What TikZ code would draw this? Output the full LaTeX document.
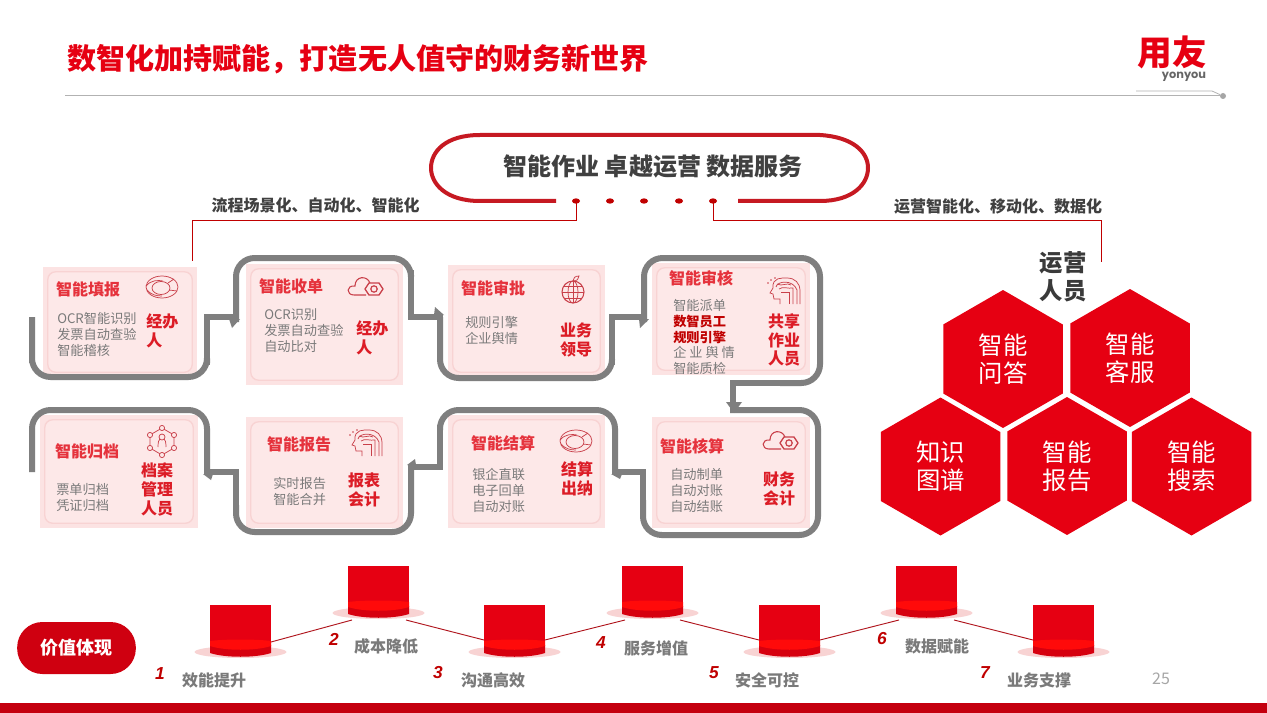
\documentclass[tikz,border=0pt]{standalone}
\usepackage{fontspec}
\setmainfont{Noto Sans CJK SC}
\newfontfamily\latinbold{Poppins}
\newfontfamily\numfont{Liberation Sans}
\usetikzlibrary{fit,shapes.geometric,calc}
\definecolor{brand}{HTML}{E60012}
\definecolor{deepred}{HTML}{C00000}
\definecolor{cardfill}{HTML}{FCE3E3}
\definecolor{cardin}{HTML}{F8D3D3}
\definecolor{cardfillb}{HTML}{FDE8E8}
\definecolor{flowgray}{HTML}{7F7F7F}
\definecolor{bodygray}{HTML}{7A7A7A}
\definecolor{headred}{HTML}{E5323C}
\definecolor{rolered}{HTML}{DC1C26}
\definecolor{iconred}{HTML}{C9404A}
\definecolor{darktext}{HTML}{404040}
\definecolor{cyldark}{HTML}{D6000F}
\definecolor{cylbright}{HTML}{FF0A0A}
\tikzset{
  x=0.75pt,y=-0.75pt,
  card/.style={fill=cardfill,draw=none,inner sep=0pt},
  cardinner/.style={fill=cardfillb,draw=cardin,line width=1pt,rounded corners=6pt},
  head/.style={font=\fontsize{12}{14}\selectfont\bfseries,text=headred,inner sep=0pt,anchor=center},
  body/.style={font=\fontsize{9.9}{12}\selectfont,text=bodygray,inner sep=0pt,anchor=west,align=left},
  role/.style={font=\fontsize{12}{14.2}\selectfont\bfseries,text=rolered,inner sep=0pt,align=center},
  roleleft/.style={role,align=left,anchor=west},
  flow/.style={draw=flowgray,line width=4.5pt,line join=miter},
  icon/.style={draw=iconred,line width=0.55pt,fill=none},
  hexa/.style={regular polygon,regular polygon sides=6,shape border rotate=30,minimum size=103.5pt,inner sep=0pt,fill=brand,draw=none,text=white,align=center,font=\fontsize{18.3}{21}\selectfont},
  thinred/.style={draw=deepred,line width=0.75pt},
  dotm/.style={ellipse,fill=deepred,draw=none,minimum width=6pt,minimum height=4pt,inner sep=0pt},
  capt/.style={font=\fontsize{12}{14}\selectfont\bfseries,text=bodygray,inner sep=0pt},
  numb/.style={font=\numfont\fontsize{13}{14}\selectfont\bfseries\itshape,text=deepred,inner sep=0pt},
  lbl/.style={font=\fontsize{12}{14}\selectfont\bfseries,text=darktext,inner sep=0pt},
  ringicon/.pic={
    \draw[icon] (0,0) ellipse (16 and 11);
    \draw[icon] (-1,1) ellipse (9 and 6.5);
    \draw[icon] (-16,-1) .. controls (-11,-7) and (-4,-7) .. (1,-6) (6,-4) -- (12,-8) (7,3) -- (15,4) (-15,3) .. controls (-11,8) and (-5,9) .. (0,9);
  },
  cloudicon/.pic={
    \draw[icon,line width=0.8pt] (0,7) -- (-12,7) .. controls (-20,7) and (-20,-3) .. (-11,-2) .. controls (-11,-12) and (1,-13) .. (4,-5);
    \draw[icon,line width=1pt,line join=round] (-1,1) -- (3,-5) -- (13,-5) -- (17,1) -- (13,7) -- (3,7) -- cycle;
    \draw[icon,line width=0.9pt] (8,1) circle (3.2);
  },
  globeicon/.pic={
    \draw[icon,line width=0.8pt] (0,2) circle (11);
    \draw[icon] (0,2) ellipse (5 and 11);
    \draw[icon] (-11,2) -- (11,2) (-9,-4) -- (9,-4) (-9,8) -- (9,8) (0,-9) -- (0,13);
    \draw[icon] (0,-9) .. controls (0,-12) and (2,-14) .. (6,-14) .. controls (6,-11) and (4,-9) .. (0,-9);
  },
  brainicon/.pic={
    \draw[icon] (-5,13) -- (-5,8) -- (-11,8) -- (-12,3) -- (-15,2) -- (-12,-3) .. controls (-13,-14) and (-3,-13) .. (2,-13) .. controls (10,-13) and (15,-8) .. (15,0) -- (15,13);
    \draw[icon] (-9,-4) .. controls (-8,-10) and (8,-12) .. (12,-1) -- (12,13);
    \draw[icon] (-8,-7) .. controls (-3,-4) and (2,-9) .. (6,-6);
    \draw[icon] (-6,-2) .. controls (-2,-5) and (3,-2) .. (8,-3) -- (8,13);
    \draw[icon] (4,13) -- (4,1) -- (-4,1);
    \fill[iconred] (-14,-11) circle (0.8) (-10,-13) circle (0.8) (-17,-8) circle (0.8);
  },
  neticon/.pic={
    \draw[icon] (0,-13) -- (12,-6) -- (12,7) -- (0,14) -- (-12,7) -- (-12,-6) -- cycle;
    \foreach \p in {(0,-13),(12,-6),(12,7),(0,14),(-12,7),(-12,-6)}{\draw[icon,fill=cardfillb] \p circle (2.6);}
    \draw[icon] (-4,6) .. controls (-4,0) and (-3,-1) .. (-2,-2) (4,6) .. controls (4,0) and (3,-1) .. (2,-2);
    \draw[icon] (0,-4) circle (3);
  },
}
\begin{document}
\begin{tikzpicture}
\useasboundingbox (0,0) rectangle (1267,713);
\fill[white] (0,0) rectangle (1267,713);
% header
\node[font=\fontsize{21.8}{24}\selectfont\bfseries,text=brand,inner sep=0pt] (title) at (358,59) {数智化加持赋能，打造无人值守的财务新世界};
\coordinate (hl) at (65,96);
\node[circle,fill=black!35,inner sep=0pt,minimum size=4.5pt] (hdot) at (1223,96) {};
\draw[black!30,line width=0.75pt] (hl) -- (hdot);
\coordinate (hu) at (1136,91);
\draw[black!30,line width=0.6pt] (hu) -- (1212,91) -- (hdot);
\node[font=\fontsize{26}{28}\selectfont\bfseries,text=brand,inner sep=0pt] (logo) at (1172,52) {用友};
\node[font=\latinbold\fontsize{8.5}{10}\selectfont\bfseries,text=black!60,inner sep=0pt] (logot) at (1184,77) {yonyou};
% top capsule
\node[inner sep=0pt,font=\fontsize{18}{20}\selectfont\bfseries,text=darktext] (cap) at (653,166) {智能作业 卓越运营 数据服务};
\coordinate (capL) at (556,201);
\coordinate (capR) at (738,201);
\draw[draw=rolered!90!black,line width=3pt] (capL) -- (480,201) .. controls (445,201) and (431,183) .. (431,168) .. controls (431,152) and (445,135) .. (480,135) -- (820,135) .. controls (853,137) and (868,152) .. (868,168) .. controls (868,184) and (853,201) .. (820,201) -- (capR);
\node[dotm] (d1) at (576,201) {};
\node[dotm] (d2) at (610,201) {};
\node[dotm] (d3) at (644,201) {};
\node[dotm] (d4) at (679,201) {};
\node[dotm] (d5) at (713,201) {};
\coordinate (leftEnd) at (192,261);
\coordinate (rightEnd) at (1101,262);
\draw[thinred] (d1.center) -- (576,220) -| (leftEnd);
\draw[thinred] (d5.center) -- (713,220) -| (rightEnd);
\node[lbl] (ll) at (315.5,205) {流程场景化、自动化、智能化};
\node[lbl] (lr) at (998,206) {运营智能化、移动化、数据化};
% cards
\node[card,fit={(43,267) (197,377)}] (b1) {};
\node[card,fit={(246,264) (403,385)}] (b2) {};
\node[card,fit={(448,265) (605,377)}] (b3) {};
\node[card,fit={(652,263) (810,375)}] (b4) {};
\node[card,fit={(652,417) (810,528)}] (b5) {};
\node[card,fit={(448,415) (605,528)}] (b6) {};
\node[card,fit={(246,417) (403,528)}] (b7) {};
\node[card,fit={(40,415) (198,528)}] (b8) {};
\foreach \b in {b1,b2,b3,b4,b5,b6,b7,b8}{
  \draw[cardinner] ([shift={(5,-5)}]\b.south west) rectangle ([shift={(-5,5)}]\b.north east);
}
% flow band
\coordinate (j0) at (32,317);
\coordinate (j1) at (238,317);
\coordinate (j2s) at (236,322);
\coordinate (j2) at (443,317);
\coordinate (j3s) at (440,317);
\coordinate (j3) at (646,317);
\coordinate (j4s) at (644,322);
\coordinate (j4) at (733,405);
\coordinate (j5s) at (730,410);
\coordinate (j5) at (613,472);
\coordinate (j6s) at (615,474);
\coordinate (j6) at (409,467);
\coordinate (j7s) at (411,465);
\coordinate (j7) at (205,472);
\coordinate (j8s) at (207,474);
\coordinate (j8) at (32,472);
\begin{scope}[flow]
\draw (j0) -- (32,363) [rounded corners=14] -- (32,377) -- (207,377) -- (207,363);
\draw (207,365) -- (207,317) -- (j1);
\draw [rounded corners=14] (j2s) -- (236,258) -- (411,258) -- (411,275);
\draw (411,270) -- (411,317) -- (j2);
\draw [rounded corners=14] (j3s) -- (440,378) -- (612,378) -- (612,360);
\draw (612,365) -- (612,317) -- (j3);
\draw [rounded corners=14] (j4s) -- (644,258) -- (820,258) -- (820,383) -- (780,383);
\draw (785,383) -- (733,383) -- (j4);
\draw [rounded corners=14] (j5s) -- (818,410) -- (818,535) -- (643,535) -- (643,500);
\draw (643,505) -- (643,472) -- (j5);
\draw [rounded corners=14] (j6s) -- (615,410) -- (440,410) -- (440,430);
\draw (440,425) -- (440,467) -- (j6);
\draw [rounded corners=14] (j7s) -- (411,532) -- (236,532) -- (236,505);
\draw (236,510) -- (236,472) -- (j7);
\draw [rounded corners=14] (j8s) -- (207,410) -- (32,410) -- (j8);
\end{scope}
\fill[flowgray] (229,319) -- (240,319) -- (232,328) -- cycle;
\fill[flowgray] (434,315) -- (444,315) -- (435,307) -- cycle;
\fill[flowgray] (639,319) -- (649,319) -- (640,328) -- cycle;
\fill[flowgray] (726,402) -- (742,402) -- (734,413) -- cycle;
\fill[flowgray] (611,474) -- (622,474) -- (620,479) -- cycle;
\fill[flowgray] (407,465) -- (416,465) -- (415,459) -- cycle;
\fill[flowgray] (203,474) -- (213,474) -- (211,480) -- cycle;
% card 1
\node[head] (h1) at (88,289) {智能填报};
\node[body] (t1) at (57,334) {OCR智能识别\\发票自动查验\\智能稽核};
\node[roleleft] (r1) at (146,331) {经办\\人};
\pic at (162,287) {ringicon};
% card 2
\node[head] (h2) at (291,286) {智能收单};
\node[body] (t2) at (264,331) {OCR识别\\发票自动查验\\自动比对};
\node[roleleft] (r2) at (356,338) {经办\\人};
\pic at (366,288) {cloudicon};
% card 3
\node[head] (h3) at (493,288) {智能审批};
\node[body] (t3) at (465,330) {规则引擎\\企业舆情};
\node[role] (r3) at (576,340) {业务\\领导};
\pic at (573,290) {globeicon};
% card 4
\node[head] (h4) at (701,278) {智能审核};
\node[body,font=\fontsize{9.9}{11.7}\selectfont] (t4) at (673,337) {智能派单\\\textcolor{deepred}{\bfseries 数智员工}\\\textcolor{deepred}{\bfseries 规则引擎}\\企 业 舆 情\\智能质检};
\node[role] (r4) at (784,340) {共享\\作业\\人员};
\pic at (785,291) {brainicon};
% card 5
\node[head] (h5) at (692,446) {智能核算};
\node[body] (t5) at (670,491) {自动制单\\自动对账\\自动结账};
\node[role] (r5) at (779,489) {财务\\会计};
\pic at (781,442) {cloudicon};
% card 6
\node[head] (h6) at (503,443) {智能结算};
\node[body] (t6) at (472,490) {银企直联\\电子回单\\自动对账};
\node[role] (r6) at (577,479) {结算\\出纳};
\pic at (576,441) {ringicon};
% card 7
\node[head] (h7) at (299,444) {智能报告};
\node[body] (t7) at (273,491) {实时报告\\智能合并};
\node[role] (r7) at (364,490) {报表\\会计};
\pic at (367,443) {brainicon};
% card 8
\node[head] (h8) at (87,451) {智能归档};
\node[body] (t8) at (56,498) {票单归档\\凭证归档};
\node[role] (r8) at (157,489) {档案\\管理\\人员};
\pic at (162,441) {neticon};
% hexagons
\node[font=\fontsize{17.5}{21}\selectfont\bfseries,text=darktext!90!black,inner sep=0pt,align=center] (ops) at (1063,277) {运营\\人员};
\node[hexa] (x1) at (1003,359) {智能\\问答};
\node[hexa] (x2) at (1130,358) {智能\\客服};
\node[hexa] (x3) at (940.5,466.5) {知识\\图谱};
\node[hexa] (x4) at (1067,466) {智能\\报告};
\node[hexa] (x5) at (1191.5,466.5) {智能\\搜索};
% value strip
\node[rounded corners=19pt,fill=brand!90!black,draw=none,minimum width=89pt,minimum height=39pt,inner sep=0pt,text=white,font=\fontsize{13.5}{16}\selectfont\bfseries] (val) at (76.5,648) {价值体现};
\foreach \i/\x/\t in {1/210/605,2/348/566,3/484/605,4/622/566,5/759/605,6/896/566,7/1033/605}{
  \fill[cardin] (\x+30.5,\t+47) ellipse (46 and 6);
  \node[fill=brand,draw=none,inner sep=0pt,fit={(\x,\t) (\x+61,\t+38)}] (c\i) {};
  \fill[cyldark] (\x,\t+40) -- (\x,\t+48) .. controls (\x+15,\t+53) and (\x+46,\t+53) .. (\x+61,\t+48) -- (\x+61,\t+40) -- cycle;
  \fill[cylbright] (\x,\t+36) -- (\x,\t+41) .. controls (\x+15,\t+46) and (\x+46,\t+46) .. (\x+61,\t+41) -- (\x+61,\t+36) .. controls (\x+46,\t+34) and (\x+15,\t+34) .. (\x,\t+36) -- cycle;
}
\coordinate (k1r) at (271,642);
\coordinate (k2l) at (352,620);
\coordinate (k2r) at (406,620);
\coordinate (k3l) at (484,640);
\coordinate (k3r) at (545,640);
\coordinate (k4l) at (625,620);
\coordinate (k4r) at (680,620);
\coordinate (k5l) at (759,640);
\coordinate (k5r) at (820,640);
\coordinate (k6l) at (899,620);
\coordinate (k6r) at (954,620);
\coordinate (k7l) at (1033,640);
\draw[draw=rolered!80!black,line width=0.7pt] (k1r) -- (k2l) (k2r) -- (k3l) (k3r) -- (k4l) (k4r) -- (k5l) (k5r) -- (k6l) (k6r) -- (k7l);
\node[numb] (n1) at (160,674) {1};
\node[numb] (n2) at (334,639) {2};
\node[numb] (n3) at (438,673) {3};
\node[numb] (n4) at (601,643) {4};
\node[numb] (n5) at (714,673) {5};
\node[numb] (n6) at (882,639) {6};
\node[numb] (n7) at (985,673) {7};
\node[capt] (v1) at (214,680) {效能提升};
\node[capt] (v2) at (386,646) {成本降低};
\node[capt] (v3) at (493,680) {沟通高效};
\node[capt] (v4) at (656,648) {服务增值};
\node[capt] (v5) at (767,680) {安全可控};
\node[capt] (v6) at (937,646) {数据赋能};
\node[capt] (v7) at (1039,680) {业务支撑};
\node[font=\fontsize{12}{14}\selectfont,text=black!35,inner sep=0pt] (pg) at (1161,679) {25};
\fill[brand!85!black] (0,703) rectangle (1267,713);
\end{tikzpicture}
\end{document}
